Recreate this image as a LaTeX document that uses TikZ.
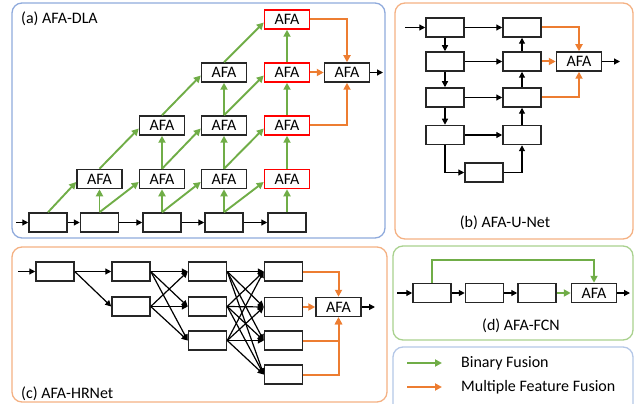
\documentclass[tikz,border=0pt]{standalone}
\usepackage{fontspec}
\setmainfont{Carlito}
\usetikzlibrary{arrows.meta}
\definecolor{gc}{HTML}{70AD47}
\definecolor{oc}{HTML}{ED7D31}
\definecolor{rc}{HTML}{FF0000}
\definecolor{pblue}{HTML}{8FAADC}
\definecolor{porange}{HTML}{F4B183}
\definecolor{pgreen}{HTML}{A9D18E}
\definecolor{lblue}{HTML}{B4C7E7}
\begin{document}
\begin{tikzpicture}[x=1pt,y=-1pt,
  font=\fontsize{16}{19}\selectfont,
  blk/.style={draw=black!85, line width=1.5pt, fill=white, minimum width=38pt, minimum height=19pt, inner sep=0pt},
  afa/.style={blk, minimum width=45pt},
  redafa/.style={afa, draw=rc},
  arr/.style={line width=1.2pt, draw=black, -{Triangle[length=6pt,width=6pt]}},
  garr/.style={line width=1.9pt, draw=gc, -{Triangle[length=7pt,width=7pt]}},
  oarr/.style={line width=2pt, draw=oc, -{Triangle[length=7pt,width=7pt]}},
  panel/.style={rounded corners=10pt, line width=1.3pt},
  lbl/.style={inner sep=0pt}
]
\useasboundingbox (0,0) rectangle (641,404);

% ---------- panel borders ----------
\draw[panel, draw=pblue] (12,3) rectangle (385,238);
\draw[panel, draw=porange] (395,3) rectangle (633,239);
\draw[panel, draw=porange] (12,247) rectangle (387,402);
\draw[panel, draw=pgreen] (393,246) rectangle (633,340);
\draw[panel, draw=lblue] (393,404) -- (393,347) -- (633,347) -- (633,404);

% ---------- (a) AFA-DLA ----------
\node[lbl, anchor=west] (ta) at (21,19) {(a) AFA-DLA};
\node[blk] (B0) at (48,222.5) {};
\node[blk] (B1) at (99.5,222.5) {};
\node[blk] (B2) at (162,222.5) {};
\node[blk] (B3) at (224,222.5) {};
\node[blk] (B4) at (287,222.5) {};
\node[afa] (A11) at (99.5,179) {AFA};
\node[afa] (A12) at (162,179) {AFA};
\node[afa] (A13) at (224,179) {AFA};
\node[redafa] (A14) at (287,179) {AFA};
\node[afa] (A22) at (162,125.5) {AFA};
\node[afa] (A23) at (224,125.5) {AFA};
\node[redafa] (A24) at (287,125.5) {AFA};
\node[afa] (A33) at (224,72.5) {AFA};
\node[redafa] (A34) at (287,72.5) {AFA};
\node[redafa] (A44) at (287,19.5) {AFA};
\node[afa] (AF) at (347,72.5) {AFA};
\coordinate (ain) at (16,222.5);
\coordinate (aout) at (383,72.5);
\draw[arr] (ain) -- (B0.west);
\foreach \i/\j in {0/1,1/2,2/3,3/4} \draw[arr] (B\i.east) -- (B\j.west);
\draw[arr] (AF.east) -- (aout);
% green verticals
\foreach \j in {1,2,3,4} \draw[garr] (B\j.north) -- (A1\j.south);
\foreach \i/\k/\j in {1/2/2,1/2/3,1/2/4,2/3/3,2/3/4,3/4/4} \draw[garr] (A\i\j.north) -- (A\k\j.south);
% green diagonals
\foreach \i/\j in {0/1,1/2,2/3,3/4} \draw[garr] (B\i.north) -- ([yshift=-3pt]A1\j.west);
\foreach \i/\k/\s/\t in {1/2/1/2,1/2/2/3,1/2/3/4,2/3/2/3,2/3/3/4,3/4/3/4} \draw[garr] (A\i\s.north) -- ([yshift=-3pt]A\k\t.west);
% orange
\draw[oarr] (A44.east) -| (AF.north);
\draw[oarr] (A34.east) -- (AF.west);
\draw[oarr] (A24.east) -| (AF.south);

% ---------- (b) AFA-U-Net ----------
\node[lbl] (tb) at (505,223) {(b) AFA-U-Net};
\node[blk] (L1) at (445,27.5) {};
\node[blk] (L2) at (445,61.5) {};
\node[blk] (L3) at (445,97.5) {};
\node[blk] (L4) at (445,135) {};
\node[blk] (R1) at (522,27.5) {};
\node[blk] (R2) at (522,61.5) {};
\node[blk] (R3) at (522,97.5) {};
\node[blk] (R4) at (522,135) {};
\node[blk] (M) at (484,172.5) {};
\node[afa] (BF) at (579,61.5) {AFA};
\coordinate (bin) at (405,27.5);
\coordinate (bout) at (620,61.5);
\draw[arr] (bin) -- (L1.west);
\foreach \i/\j in {1/2,2/3,3/4} \draw[arr] (L\i.south) -- (L\j.north);
\foreach \i/\j in {4/3,3/2,2/1} \draw[arr] (R\i.north) -- (R\j.south);
\foreach \i in {1,2,3,4} \draw[arr] (L\i.east) -- (R\i.west);
\draw[arr] (L4.south) |- (M.west);
\draw[arr] (M.east) -| (R4.south);
\draw[oarr] (R1.east) -| (BF.north);
\draw[oarr] (R2.east) -- (BF.west);
\draw[oarr] (R3.east) -| (BF.south);
\draw[arr] (BF.east) -- (bout);

% ---------- (c) AFA-HRNet ----------
\node[lbl, anchor=west] (tc) at (21,394) {(c) AFA-HRNet};
\node[blk] (C1) at (55,271.5) {};
\node[blk] (C21) at (131,271.5) {};
\node[blk] (C22) at (131,306.5) {};
\node[blk] (C31) at (207.5,271.5) {};
\node[blk] (C32) at (207.5,306.5) {};
\node[blk] (C33) at (207.5,340.5) {};
\node[blk] (C41) at (283.5,271.5) {};
\node[blk] (C42) at (283.5,307) {};
\node[blk] (C43) at (283.5,340.5) {};
\node[blk] (C44) at (283.5,374.5) {};
\node[afa] (CF) at (338.5,307) {AFA};
\coordinate (cin) at (18,271.5);
\coordinate (cout) at (375,307);
\draw[arr] (cin) -- (C1.west);
\foreach \j in {1,2} \draw[arr] (C1.east) -- (C2\j.west);
\foreach \i in {1,2} \foreach \j in {1,2,3} \draw[arr] (C2\i.east) -- (C3\j.west);
\foreach \i in {1,2,3} \foreach \j in {1,2,3,4} \draw[arr] (C3\i.east) -- (C4\j.west);
\draw[oarr] (C41.east) -| (CF.north);
\draw[oarr] (C42.east) -- (CF.west);
\draw[oarr] (C43.east) -| (CF.south);
\draw[oarr] (C44.east) -| (CF.south);
\draw[arr] (CF.east) -- (cout);

% ---------- (d) AFA-FCN ----------
\node[lbl] (td) at (521,326) {(d) AFA-FCN};
\node[blk] (D1) at (432,293) {};
\node[blk] (D2) at (484.5,293) {};
\node[blk] (D3) at (537,293) {};
\node[afa] (DF) at (594,293) {AFA};
\coordinate (din) at (397,293);
\coordinate (dout) at (630,293);
\coordinate (dtop) at (594,260);
\draw[arr] (din) -- (D1.west);
\draw[arr] (D1.east) -- (D2.west);
\draw[arr] (D2.east) -- (D3.west);
\draw[garr] (D3.east) -- (DF.west);
\draw[arr] (DF.east) -- (dout);
\draw[garr] (D1.north) |- (dtop) -- (DF.north);

% ---------- legend ----------
\coordinate (g1) at (407,363);
\coordinate (g2) at (442,363);
\coordinate (o1) at (407,387);
\coordinate (o2) at (442,387);
\draw[garr] (g1) -- (g2);
\draw[oarr] (o1) -- (o2);
\node[lbl, anchor=west] (lg) at (461,363) {Binary Fusion};
\node[lbl, anchor=west] (lo) at (461,387) {Multiple Feature Fusion};
\end{tikzpicture}
\end{document}
